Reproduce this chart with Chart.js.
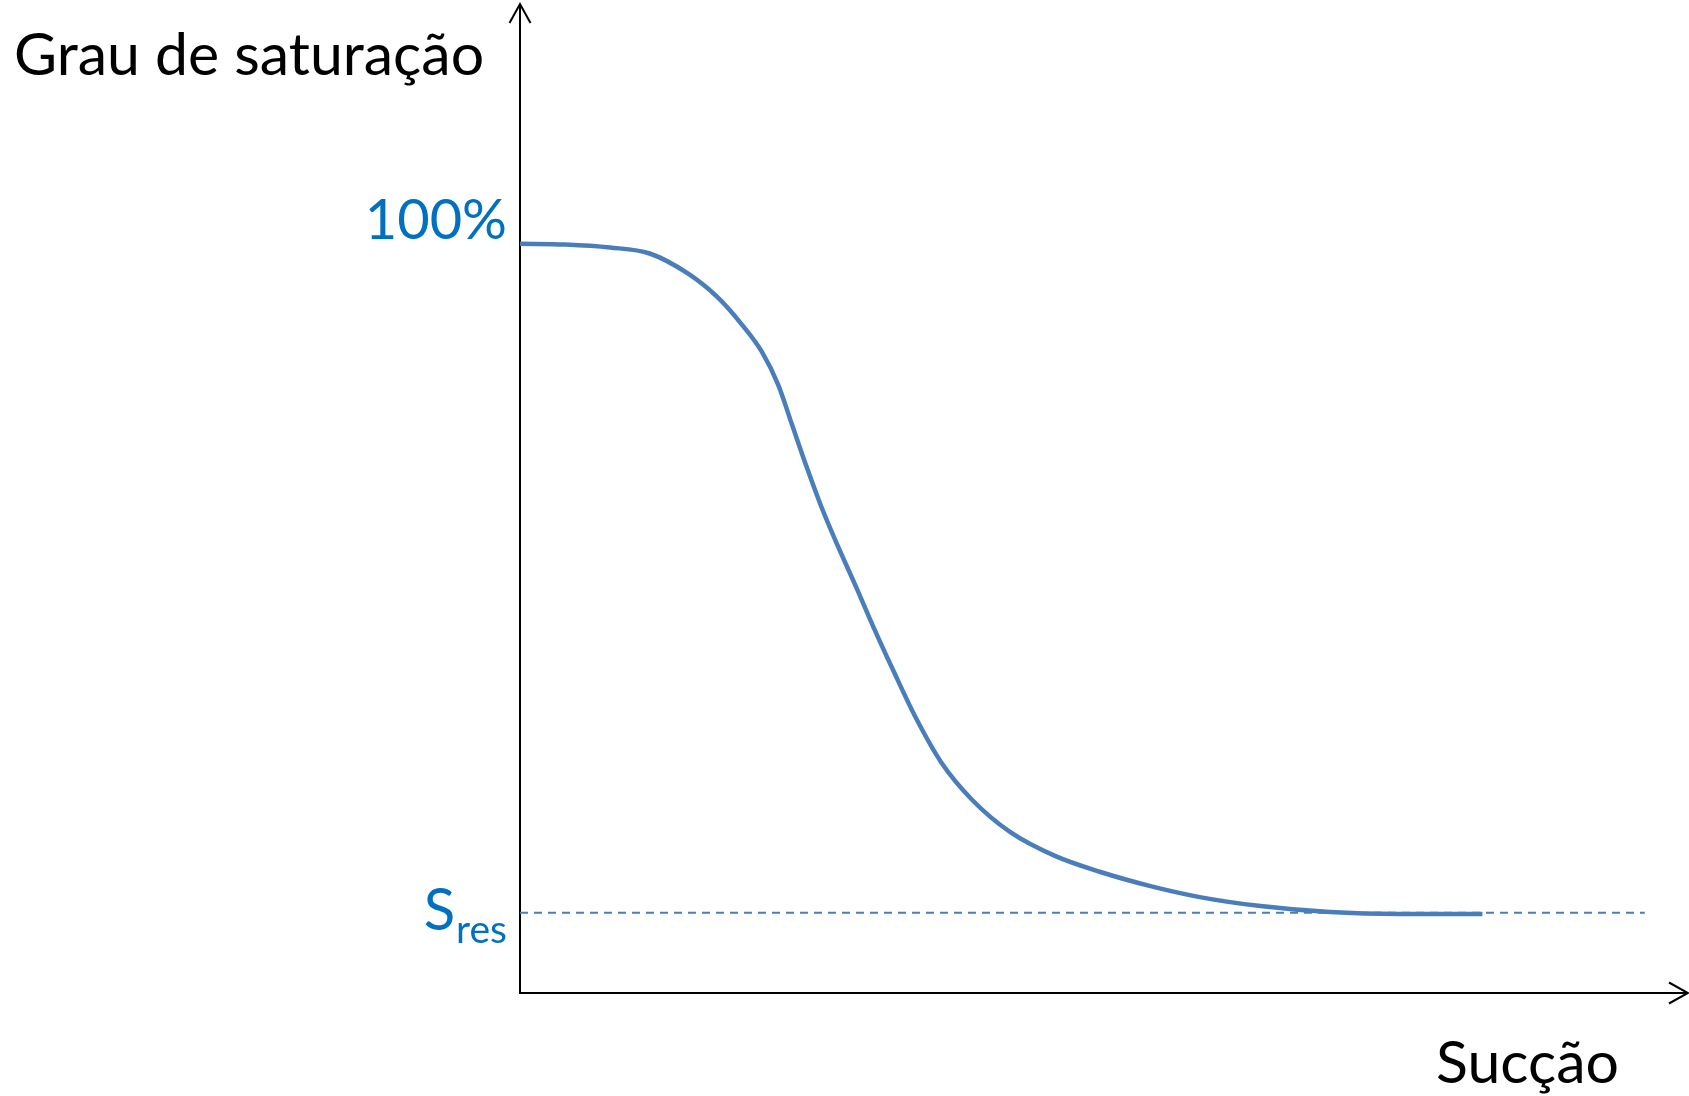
<!DOCTYPE html>
<html>
<head>
<meta charset="utf-8">
<script src="https://cdn.jsdelivr.net/npm/chart.js@4/dist/chart.umd.min.js"></script>
<style>
    html, body { margin: 0; padding: 0; background: #fff; }
    #wrap { width: 1689px; height: 1096px; position: relative; }
</style>
</head>
<body>
<div id="wrap"><canvas id="retention"></canvas></div>
<script>
// Curve data (arbitrary suction units vs. degree of saturation, %)
const suction = [0, 3.85, 7.7, 11.1, 14.4, 16.95, 19.0, 20.7, 22.1, 23.3, 24.5, 25.8, 27.2, 28.8, 30.3, 32.0, 33.9, 36.1, 38.7, 41.95, 45.8, 49.7, 53.9, 58.2, 63.4, 69.35, 75.3, 82.4];
const saturation = [100, 99.9, 99.5, 98.7, 96.0, 92.8, 89.2, 85.6, 81.2, 75.8, 70.4, 64.9, 59.7, 54.1, 48.7, 42.9, 36.7, 30.7, 25.8, 21.5, 18.3, 16.15, 14.3, 12.8, 11.6, 10.8, 10.55, 10.55];

// Residual saturation line
const residualValue = 10.7;
const residualExtent = [0, 96.3];

// Axis ranges
const xRange = [0, 100];
const yRange = [0, 132];

// Labels
const yTitle = 'Grau de saturação';
const xTitle = 'Sucção';
const topLabel = '100%';
const resLabel = ['S', 'res'];

const curveColor = '#4A7EBB';
const labelBlue = '#0070C0';
const FONT = 'Lato, "Open Sans", sans-serif';

function arrowHead(ctx, tipX, tipY, dx, dy) {
    // dx,dy: unit direction of the arrow
    const len = 19, half = 10.5;
    const bx = tipX - dx * len, by = tipY - dy * len;
    ctx.beginPath();
    ctx.moveTo(bx - dy * half, by + dx * half);
    ctx.lineTo(tipX, tipY);
    ctx.lineTo(bx + dy * half, by - dx * half);
    ctx.stroke();
}

const decorations = {
    id: 'decorations',
    beforeDatasetsDraw(chart) {
        const { ctx, chartArea: a } = chart;
        ctx.save();
        ctx.strokeStyle = '#000';
        ctx.lineWidth = 2;
        // axes
        ctx.beginPath();
        ctx.moveTo(a.left, a.top);
        ctx.lineTo(a.left, a.bottom);
        ctx.lineTo(a.right, a.bottom);
        ctx.stroke();
        arrowHead(ctx, a.left, a.top, 0, -1);
        arrowHead(ctx, a.right, a.bottom, 1, 0);
        ctx.restore();
    },
    afterDraw(chart) {
        const { ctx, chartArea: a, scales } = chart;
        const y = scales.y;
        ctx.save();
        ctx.textBaseline = 'alphabetic';

        // axis titles
        ctx.fillStyle = '#000';
        ctx.font = '59px ' + FONT;
        ctx.textAlign = 'left';
        ctx.fillText(yTitle, 14, 75);
        ctx.fillText(xTitle, 1436, 1083);

        // 100% label
        ctx.fillStyle = labelBlue;
        ctx.textAlign = 'right';
        ctx.font = '56px ' + FONT;
        ctx.fillText(topLabel, a.left - 13, y.getPixelForValue(100) - 5);

        // S_res label
        ctx.font = '39px ' + FONT;
        const subW = ctx.measureText(resLabel[1]).width;
        const resY = y.getPixelForValue(residualValue);
        ctx.fillText(resLabel[1], a.left - 13, resY + 30);
        ctx.font = '58px ' + FONT;
        ctx.fillText(resLabel[0], a.left - 13 - subW - 1, resY + 17);
        ctx.restore();
    }
};

new Chart(document.getElementById('retention'), {
    type: 'scatter',
    data: {
        datasets: [
            {
                label: 'Sres',
                data: residualExtent.map(x => ({ x, y: residualValue })),
                showLine: true,
                borderColor: curveColor,
                borderWidth: 2,
                borderDash: [8, 6],
                pointRadius: 0,
                fill: false
            },
            {
                label: 'Curva',
                data: suction.map((x, i) => ({ x, y: saturation[i] })),
                showLine: true,
                borderColor: curveColor,
                borderWidth: 4.5,
                pointRadius: 0,
                cubicInterpolationMode: 'monotone',
                borderCapStyle: 'butt',
                fill: false
            }
        ]
    },
    options: {
        responsive: true,
        maintainAspectRatio: false,
        animation: false,
        layout: { padding: { left: 520, right: 1, top: 4, bottom: 103 } },
        scales: {
            x: { type: 'linear', min: xRange[0], max: xRange[1], display: false },
            y: { type: 'linear', min: yRange[0], max: yRange[1], display: false }
        },
        plugins: {
            legend: { display: false },
            tooltip: { enabled: false }
        }
    },
    plugins: [decorations]
});
</script>
</body>
</html>
